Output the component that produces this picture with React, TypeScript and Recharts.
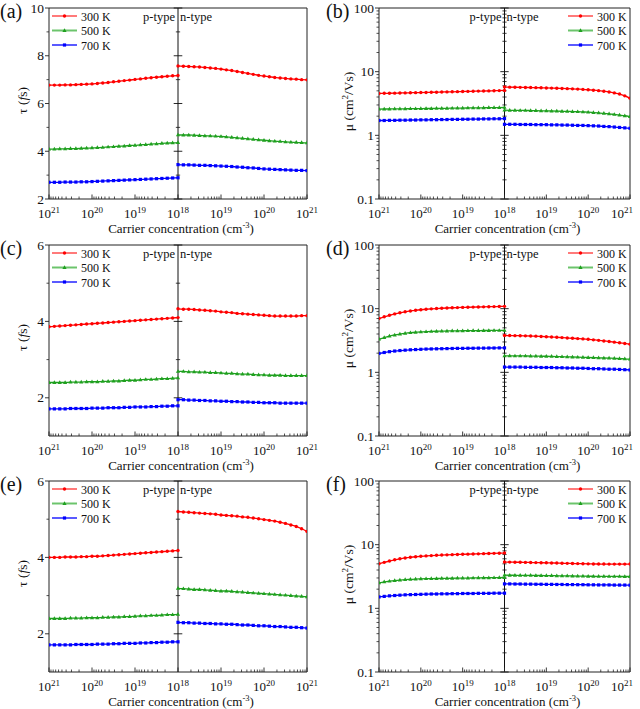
import React from 'react';
import { LineChart, Line, XAxis, YAxis, ReferenceLine, ReferenceArea } from 'recharts';

const FONT = 'Liberation Serif, Times New Roman, serif';

// carrier concentration exponents (cm^-3): p-type runs 1e21 -> 1e18, n-type 1e18 -> 1e21
const pExp = [21, 20.875, 20.75, 20.625, 20.5, 20.375, 20.25, 20.125, 20, 19.875, 19.75, 19.625, 19.5, 19.375, 19.25, 19.125, 19, 18.875, 18.75, 18.625, 18.5, 18.375, 18.25, 18.125, 18];
const nExp = [18, 18.125, 18.25, 18.375, 18.5, 18.625, 18.75, 18.875, 19, 19.125, 19.25, 19.375, 19.5, 19.625, 19.75, 19.875, 20, 20.125, 20.25, 20.375, 20.5, 20.625, 20.75, 20.875, 21];
const xMajorTicks = [-3, -2, -1, 0, 1, 2, 3];
const temps = ['300 K', '500 K', '700 K'];

// (a) tau (fs)
const aP300 = [6.77, 6.77, 6.77, 6.78, 6.78, 6.79, 6.80, 6.81, 6.82, 6.84, 6.86, 6.88, 6.91, 6.93, 6.96, 6.98, 7.01, 7.03, 7.06, 7.08, 7.10, 7.12, 7.14, 7.16, 7.17];
const aN300 = [7.57, 7.56, 7.55, 7.54, 7.53, 7.51, 7.49, 7.47, 7.44, 7.41, 7.38, 7.34, 7.30, 7.26, 7.22, 7.18, 7.15, 7.12, 7.09, 7.07, 7.05, 7.03, 7.02, 7.00, 6.99];
const aP500 = [4.09, 4.09, 4.10, 4.10, 4.11, 4.11, 4.12, 4.13, 4.14, 4.15, 4.16, 4.18, 4.19, 4.21, 4.22, 4.24, 4.25, 4.27, 4.28, 4.30, 4.31, 4.33, 4.34, 4.35, 4.36];
const aN500 = [4.69, 4.68, 4.68, 4.67, 4.66, 4.65, 4.64, 4.63, 4.62, 4.60, 4.58, 4.56, 4.54, 4.52, 4.50, 4.48, 4.46, 4.44, 4.42, 4.41, 4.39, 4.38, 4.37, 4.36, 4.35];
const aP700 = [2.70, 2.70, 2.70, 2.71, 2.71, 2.71, 2.72, 2.72, 2.73, 2.74, 2.75, 2.76, 2.77, 2.78, 2.79, 2.80, 2.81, 2.82, 2.83, 2.84, 2.85, 2.86, 2.87, 2.88, 2.89];
const aN700 = [3.44, 3.43, 3.43, 3.42, 3.41, 3.41, 3.40, 3.39, 3.38, 3.37, 3.36, 3.34, 3.33, 3.31, 3.30, 3.28, 3.26, 3.25, 3.24, 3.23, 3.22, 3.21, 3.20, 3.20, 3.19];

// (b) mu (cm2/Vs)
const bP300 = [4.55, 4.57, 4.58, 4.60, 4.62, 4.64, 4.66, 4.68, 4.70, 4.72, 4.74, 4.76, 4.79, 4.81, 4.83, 4.85, 4.88, 4.90, 4.92, 4.95, 4.97, 4.99, 5.02, 5.04, 5.07];
const bN300 = [5.73, 5.71, 5.69, 5.67, 5.65, 5.63, 5.61, 5.58, 5.55, 5.52, 5.49, 5.45, 5.41, 5.37, 5.32, 5.27, 5.20, 5.12, 5.03, 4.92, 4.80, 4.64, 4.45, 4.17, 3.84];
const bP500 = [2.58, 2.59, 2.59, 2.60, 2.60, 2.61, 2.62, 2.62, 2.63, 2.64, 2.64, 2.65, 2.66, 2.66, 2.67, 2.68, 2.68, 2.69, 2.70, 2.70, 2.71, 2.72, 2.72, 2.73, 2.74];
const bN500 = [2.48, 2.47, 2.47, 2.46, 2.46, 2.45, 2.44, 2.43, 2.42, 2.41, 2.40, 2.39, 2.38, 2.36, 2.35, 2.33, 2.31, 2.28, 2.25, 2.22, 2.18, 2.13, 2.08, 2.03, 1.97];
const bP700 = [1.71, 1.71, 1.72, 1.72, 1.73, 1.73, 1.74, 1.74, 1.75, 1.75, 1.76, 1.76, 1.77, 1.77, 1.78, 1.78, 1.79, 1.79, 1.80, 1.80, 1.81, 1.81, 1.82, 1.82, 1.83];
const bN700 = [1.49, 1.49, 1.49, 1.48, 1.48, 1.48, 1.47, 1.47, 1.47, 1.46, 1.46, 1.45, 1.45, 1.44, 1.43, 1.43, 1.42, 1.41, 1.40, 1.38, 1.37, 1.35, 1.33, 1.31, 1.29];

// (c) tau (fs)
const cP300 = [3.86, 3.87, 3.88, 3.89, 3.90, 3.91, 3.92, 3.93, 3.94, 3.95, 3.96, 3.97, 3.98, 3.99, 4.00, 4.01, 4.02, 4.03, 4.04, 4.05, 4.06, 4.07, 4.08, 4.09, 4.10];
const cN300 = [4.33, 4.32, 4.32, 4.31, 4.30, 4.29, 4.28, 4.27, 4.25, 4.24, 4.23, 4.21, 4.20, 4.19, 4.18, 4.17, 4.16, 4.15, 4.14, 4.14, 4.14, 4.14, 4.14, 4.15, 4.15];
const cP500 = [2.40, 2.40, 2.40, 2.40, 2.41, 2.41, 2.41, 2.42, 2.42, 2.42, 2.43, 2.43, 2.44, 2.44, 2.45, 2.46, 2.46, 2.47, 2.48, 2.48, 2.49, 2.50, 2.50, 2.51, 2.52];
const cN500 = [2.69, 2.69, 2.68, 2.68, 2.67, 2.67, 2.66, 2.66, 2.65, 2.64, 2.64, 2.63, 2.62, 2.62, 2.61, 2.60, 2.60, 2.59, 2.59, 2.59, 2.58, 2.58, 2.58, 2.58, 2.58];
const cP700 = [1.71, 1.71, 1.71, 1.71, 1.72, 1.72, 1.72, 1.72, 1.73, 1.73, 1.73, 1.74, 1.74, 1.74, 1.75, 1.75, 1.76, 1.76, 1.76, 1.77, 1.77, 1.78, 1.78, 1.79, 1.79];
const cN700 = [1.95, 1.95, 1.94, 1.94, 1.93, 1.93, 1.92, 1.92, 1.91, 1.91, 1.90, 1.90, 1.89, 1.89, 1.88, 1.88, 1.87, 1.87, 1.87, 1.86, 1.86, 1.86, 1.86, 1.86, 1.86];

// (d) mu (cm2/Vs)
const dP300 = [7.00, 7.45, 7.88, 8.27, 8.62, 8.93, 9.20, 9.43, 9.62, 9.79, 9.93, 10.05, 10.16, 10.25, 10.33, 10.40, 10.46, 10.52, 10.58, 10.63, 10.68, 10.73, 10.78, 10.83, 10.88];
const dN300 = [3.79, 3.78, 3.77, 3.76, 3.74, 3.72, 3.70, 3.66, 3.62, 3.58, 3.55, 3.51, 3.47, 3.43, 3.39, 3.35, 3.30, 3.24, 3.18, 3.11, 3.05, 2.98, 2.91, 2.84, 2.77];
const dP500 = [3.32, 3.52, 3.70, 3.86, 3.99, 4.10, 4.19, 4.26, 4.31, 4.35, 4.39, 4.42, 4.44, 4.46, 4.48, 4.49, 4.50, 4.51, 4.52, 4.53, 4.54, 4.54, 4.55, 4.55, 4.55];
const dN500 = [1.82, 1.82, 1.81, 1.81, 1.81, 1.80, 1.80, 1.79, 1.79, 1.78, 1.77, 1.76, 1.75, 1.74, 1.73, 1.72, 1.71, 1.70, 1.69, 1.68, 1.67, 1.66, 1.64, 1.63, 1.61];
const dP700 = [1.98, 2.05, 2.11, 2.16, 2.20, 2.23, 2.26, 2.28, 2.30, 2.32, 2.33, 2.34, 2.35, 2.36, 2.37, 2.38, 2.38, 2.39, 2.39, 2.40, 2.40, 2.41, 2.41, 2.42, 2.42];
const dN700 = [1.21, 1.21, 1.21, 1.21, 1.20, 1.20, 1.20, 1.19, 1.19, 1.19, 1.18, 1.18, 1.17, 1.17, 1.16, 1.16, 1.15, 1.14, 1.14, 1.13, 1.12, 1.12, 1.11, 1.10, 1.09];

// (e) tau (fs)
const eP300 = [4.00, 4.00, 4.00, 4.01, 4.01, 4.01, 4.02, 4.02, 4.03, 4.03, 4.04, 4.05, 4.06, 4.07, 4.08, 4.09, 4.10, 4.11, 4.12, 4.13, 4.14, 4.15, 4.16, 4.17, 4.18];
const eN300 = [5.20, 5.19, 5.18, 5.17, 5.16, 5.15, 5.14, 5.13, 5.11, 5.10, 5.09, 5.08, 5.06, 5.05, 5.03, 5.01, 4.99, 4.97, 4.95, 4.92, 4.89, 4.85, 4.81, 4.75, 4.68];
const eP500 = [2.40, 2.40, 2.40, 2.40, 2.41, 2.41, 2.41, 2.42, 2.42, 2.42, 2.43, 2.43, 2.44, 2.44, 2.45, 2.45, 2.46, 2.47, 2.47, 2.48, 2.48, 2.49, 2.50, 2.50, 2.51];
const eN500 = [3.19, 3.18, 3.17, 3.16, 3.16, 3.15, 3.14, 3.13, 3.12, 3.12, 3.11, 3.10, 3.09, 3.08, 3.07, 3.06, 3.05, 3.04, 3.03, 3.02, 3.01, 3.00, 2.99, 2.98, 2.97];
const eP700 = [1.71, 1.71, 1.71, 1.71, 1.71, 1.72, 1.72, 1.72, 1.72, 1.73, 1.73, 1.73, 1.74, 1.74, 1.75, 1.75, 1.75, 1.76, 1.76, 1.77, 1.77, 1.78, 1.78, 1.79, 1.79];
const eN700 = [2.30, 2.29, 2.29, 2.28, 2.28, 2.27, 2.27, 2.26, 2.26, 2.25, 2.25, 2.24, 2.23, 2.23, 2.22, 2.21, 2.21, 2.20, 2.19, 2.19, 2.18, 2.17, 2.17, 2.16, 2.15];

// (f) mu (cm2/Vs)
const fP300 = [5.01, 5.28, 5.54, 5.79, 6.00, 6.18, 6.33, 6.46, 6.57, 6.66, 6.74, 6.81, 6.87, 6.92, 6.97, 7.02, 7.06, 7.10, 7.14, 7.18, 7.22, 7.26, 7.30, 7.34, 7.38];
const fN300 = [5.33, 5.32, 5.30, 5.29, 5.27, 5.25, 5.23, 5.21, 5.19, 5.16, 5.14, 5.11, 5.09, 5.06, 5.04, 5.02, 5.00, 4.98, 4.97, 4.96, 4.95, 4.95, 4.95, 4.95, 4.96];
const fP500 = [2.51, 2.60, 2.67, 2.73, 2.78, 2.82, 2.85, 2.88, 2.90, 2.92, 2.93, 2.94, 2.95, 2.96, 2.97, 2.98, 2.99, 2.99, 3.00, 3.01, 3.02, 3.02, 3.03, 3.04, 3.05];
const fN500 = [3.32, 3.31, 3.31, 3.30, 3.30, 3.29, 3.28, 3.28, 3.27, 3.26, 3.25, 3.24, 3.23, 3.22, 3.21, 3.20, 3.19, 3.19, 3.18, 3.18, 3.17, 3.17, 3.17, 3.16, 3.16];
const fP700 = [1.51, 1.54, 1.57, 1.59, 1.61, 1.63, 1.64, 1.65, 1.66, 1.67, 1.68, 1.68, 1.69, 1.69, 1.70, 1.70, 1.71, 1.71, 1.71, 1.72, 1.72, 1.72, 1.73, 1.73, 1.73];
const fN700 = [2.42, 2.42, 2.41, 2.41, 2.40, 2.40, 2.39, 2.39, 2.38, 2.38, 2.37, 2.37, 2.36, 2.36, 2.35, 2.35, 2.34, 2.34, 2.33, 2.33, 2.33, 2.32, 2.32, 2.32, 2.31];

const COLORS = ['#ff0000', '#1fa01f', '#0000ff'];
const LEGEND_COLORS = ['#ff7a7a', '#6cc46c', '#5a5aff'];
const SHAPES = ['circle', 'triangle', 'square'];

const xMinorTicks: number[] = [];
for (let m = 0; m < 3; m++) {
    for (let k = 2; k <= 9; k++) {
        xMinorTicks.push(m + Math.log10(k), -(m + Math.log10(k)));
    }
}
const logMajor = [0.1, 1, 10, 100];
const logMinor: number[] = [];
[0.1, 1, 10].forEach((d) => {
    for (let k = 2; k <= 9; k++) logMinor.push(+(k * d).toFixed(3));
});

type PanelDef = {
    label: string;
    col: number;
    row: number;
    log: boolean;
    yDomain: [number, number];
    yMajor: number[];
    yMinor: number[];
    p: number[][];
    n: number[][];
};

const panels: PanelDef[] = [
    { label: '(a)', col: 0, row: 0, log: false, yDomain: [2, 10], yMajor: [2, 4, 6, 8, 10], yMinor: [3, 5, 7, 9], p: [aP300, aP500, aP700], n: [aN300, aN500, aN700] },
    { label: '(b)', col: 1, row: 0, log: true, yDomain: [0.1, 100], yMajor: logMajor, yMinor: logMinor, p: [bP300, bP500, bP700], n: [bN300, bN500, bN700] },
    { label: '(c)', col: 0, row: 1, log: false, yDomain: [1, 6], yMajor: [2, 4, 6], yMinor: [3, 5], p: [cP300, cP500, cP700], n: [cN300, cN500, cN700] },
    { label: '(d)', col: 1, row: 1, log: true, yDomain: [0.1, 100], yMajor: logMajor, yMinor: logMinor, p: [dP300, dP500, dP700], n: [dN300, dN500, dN700] },
    { label: '(e)', col: 0, row: 2, log: false, yDomain: [1, 6], yMajor: [2, 4, 6], yMinor: [3, 5], p: [eP300, eP500, eP700], n: [eN300, eN500, eN700] },
    { label: '(f)', col: 1, row: 2, log: true, yDomain: [0.1, 100], yMajor: logMajor, yMinor: logMinor, p: [fP300, fP500, fP700], n: [fN300, fN500, fN700] },
];

const ROW_TOP = [0, 237, 473];
const CHART_W = 320;
const CHART_H = 236;
const PLOT_TOP = 8;
const PLOT_BOTTOM = 199;
const COL_GEOM = [
    { yWidth: 49, right: 13 },
    { yWidth: 59, right: 10 },
];

const Marker = ({ shape, cx, cy, color, s = 1 }: { shape: string; cx: number; cy: number; color: string; s?: number }) => {
    if (shape === 'circle') return <circle cx={cx} cy={cy} r={1.7 * s} fill={color} />;
    if (shape === 'triangle')
        return <path d={`M${cx},${cy - 2.3 * s}L${cx + 2.1 * s},${cy + 1.4 * s}L${cx - 2.1 * s},${cy + 1.4 * s}Z`} fill={color} />;
    return <rect x={cx - 1.6 * s} y={cy - 1.6 * s} width={3.2 * s} height={3.2 * s} fill={color} />;
};

const makeDot = (shape: string, color: string) => (props: any) => {
    const { cx, cy, index } = props;
    if (cx == null || cy == null) return <g key={index} />;
    return (
        <g key={index}>
            <Marker shape={shape} cx={cx} cy={cy} color={color} />
        </g>
    );
};

const isMajorX = (v: number) => Math.abs(v - Math.round(v)) < 1e-6;

// right column's last label is pulled in so it stays inside the page
const makeXTick = (col: number) => (props: any) => {
    const { x, y, payload } = props;
    const v = payload.value;
    if (!isMajorX(v)) return <line x1={x} x2={x} y1={y} y2={y - 2.5} stroke="#222" strokeWidth={0.8} />;
    const shift = col === 1 && Math.round(v) === 3 ? -8 : 0;
    return (
        <g>
            <line x1={x} x2={x} y1={y} y2={y - 4.5} stroke="#222" strokeWidth={0.9} />
            <text x={x + shift} y={y + 19} textAnchor="middle" style={{ fontFamily: FONT, fontSize: 13 }} fill="#111">
                <tspan>10</tspan>
                <tspan dy={-5.5} style={{ fontSize: 9 }}>
                    {18 + Math.round(Math.abs(v))}
                </tspan>
            </text>
        </g>
    );
};

const makeYTick = (majors: number[]) => (props: any) => {
    const { x, y, payload } = props;
    const v = payload.value;
    const major = majors.some((m) => Math.abs(m - v) < 1e-9);
    if (!major) return <line x1={x} x2={x - 2.5} y1={y} y2={y} stroke="#222" strokeWidth={0.8} />;
    return (
        <g>
            <line x1={x} x2={x - 4} y1={y} y2={y} stroke="#222" strokeWidth={0.9} />
            <text x={x - 5} y={y + 4.5} textAnchor="end" style={{ fontFamily: FONT, fontSize: 13.5 }} fill="#111">
                {String(v)}
            </text>
        </g>
    );
};

function Panel({ def }: { def: PanelDef }) {
    const geom = COL_GEOM[def.col];
    const plotLeft = geom.yWidth;
    const plotRight = CHART_W - geom.right;
    const plotMid = (plotLeft + plotRight) / 2;
    const plotMidY = (PLOT_TOP + PLOT_BOTTOM) / 2;
    const legendLeft = def.col === 0 ? 52 : 248;
    const yTicks = [...def.yMajor, ...def.yMinor];

    return (
        <div style={{ position: 'absolute', left: def.col * 320, top: ROW_TOP[def.row], width: CHART_W, height: CHART_H }}>
            <LineChart width={CHART_W} height={CHART_H} margin={{ top: PLOT_TOP, right: geom.right, bottom: 0, left: 0 }}>
                <XAxis
                    type="number"
                    dataKey="x"
                    domain={[-3, 3]}
                    ticks={[...xMajorTicks, ...xMinorTicks]}
                    interval={0}
                    tick={makeXTick(def.col)}
                    tickLine={false}
                    axisLine={false}
                    tickSize={0}
                    tickMargin={0}
                    height={CHART_H - PLOT_BOTTOM}
                    allowDataOverflow
                />
                <YAxis
                    type="number"
                    dataKey="v"
                    scale={def.log ? 'log' : 'linear'}
                    domain={def.yDomain}
                    ticks={yTicks}
                    interval={0}
                    tick={makeYTick(def.yMajor)}
                    tickLine={false}
                    axisLine={false}
                    tickSize={0}
                    tickMargin={0}
                    width={geom.yWidth}
                    allowDataOverflow
                />
                <ReferenceArea x1={-3} x2={3} y1={def.yDomain[0]} y2={def.yDomain[1]} fill="none" stroke="#222" strokeWidth={1} />
                <ReferenceLine x={0} stroke="#111" strokeWidth={1} />
                {def.yMajor.map((v) => (
                    <ReferenceLine key={'M' + v} segment={[{ x: -0.1, y: v }, { x: 0.1, y: v }]} stroke="#111" strokeWidth={0.9} />
                ))}
                {def.yMinor.map((v) => (
                    <ReferenceLine key={'m' + v} segment={[{ x: -0.05, y: v }, { x: 0.05, y: v }]} stroke="#111" strokeWidth={0.8} />
                ))}
                {def.p.map((arr, si) => (
                    <Line
                        key={'p' + si}
                        data={pExp.map((e, i) => ({ x: 18 - e, v: arr[i] }))}
                        dataKey="v"
                        type="monotone"
                        stroke={COLORS[si]}
                        strokeWidth={1.3}
                        dot={makeDot(SHAPES[si], COLORS[si])}
                        activeDot={false}
                        isAnimationActive={false}
                    />
                ))}
                {def.n.map((arr, si) => (
                    <Line
                        key={'n' + si}
                        data={nExp.map((e, i) => ({ x: e - 18, v: arr[i] }))}
                        dataKey="v"
                        type="monotone"
                        stroke={COLORS[si]}
                        strokeWidth={1.3}
                        dot={makeDot(SHAPES[si], COLORS[si])}
                        activeDot={false}
                        isAnimationActive={false}
                    />
                ))}
            </LineChart>
            <svg
                width={CHART_W}
                height={CHART_H}
                style={{ position: 'absolute', left: 0, top: 0, pointerEvents: 'none', fontFamily: FONT }}
                fill="#111"
            >
                <text x={def.col === 0 ? 0 : 6} y={18} style={{ fontSize: 20 }}>
                    {def.label}
                </text>
                {temps.map((t, i) => (
                    <g key={t}>
                        <line x1={legendLeft} x2={legendLeft + 25} y1={16 + i * 14.5} y2={16 + i * 14.5} stroke={LEGEND_COLORS[i]} strokeWidth={2} />
                        <Marker shape={SHAPES[i]} cx={legendLeft + 12.5} cy={16 + i * 14.5} color={COLORS[i]} />
                        <text x={legendLeft + 29} y={20.5 + i * 14.5} style={{ fontSize: 12 }}>
                            {t}
                        </text>
                    </g>
                ))}
                <text x={plotMid - 3} y={21} style={{ fontSize: 12.5 }} textAnchor="end">
                    p-type
                </text>
                <text x={plotMid + 2} y={21} style={{ fontSize: 12.5 }}>
                    n-type
                </text>
                <text x={plotMid + 3} y={PLOT_BOTTOM + 34} style={{ fontSize: 13 }} textAnchor="middle">
                    <tspan>Carrier concentration (cm</tspan>
                    <tspan dy={-5} style={{ fontSize: 8.5 }}>
                        -3
                    </tspan>
                    <tspan dy={5}>)</tspan>
                </text>
                {def.log ? (
                    <text
                        x={28}
                        y={plotMidY + 4.5 - 2}
                        style={{ fontSize: 13.5 }}
                        textAnchor="middle"
                        transform={`rotate(-90 28 ${plotMidY - 2})`}
                    >
                        <tspan>μ (cm</tspan>
                        <tspan dy={-5} style={{ fontSize: 9 }}>
                            2
                        </tspan>
                        <tspan dy={5}>/Vs)</tspan>
                    </text>
                ) : (
                    <text
                        x={22}
                        y={plotMidY + 4.5 - 3}
                        style={{ fontSize: 13.5 }}
                        textAnchor="middle"
                        transform={`rotate(-90 22 ${plotMidY - 3})`}
                    >
                        <tspan>τ (</tspan>
                        <tspan style={{ fontStyle: 'italic' }}>f</tspan>
                        <tspan>s)</tspan>
                    </text>
                )}
            </svg>
        </div>
    );
}

export default function App() {
    return (
        <div
            style={{
                position: 'absolute',
                left: 0,
                top: 0,
                width: 640,
                height: 709,
                background: '#fff',
                overflow: 'hidden',
                fontFamily: FONT,
            }}
        >
            {panels.map((def) => (
                <Panel key={def.label} def={def} />
            ))}
        </div>
    );
}
